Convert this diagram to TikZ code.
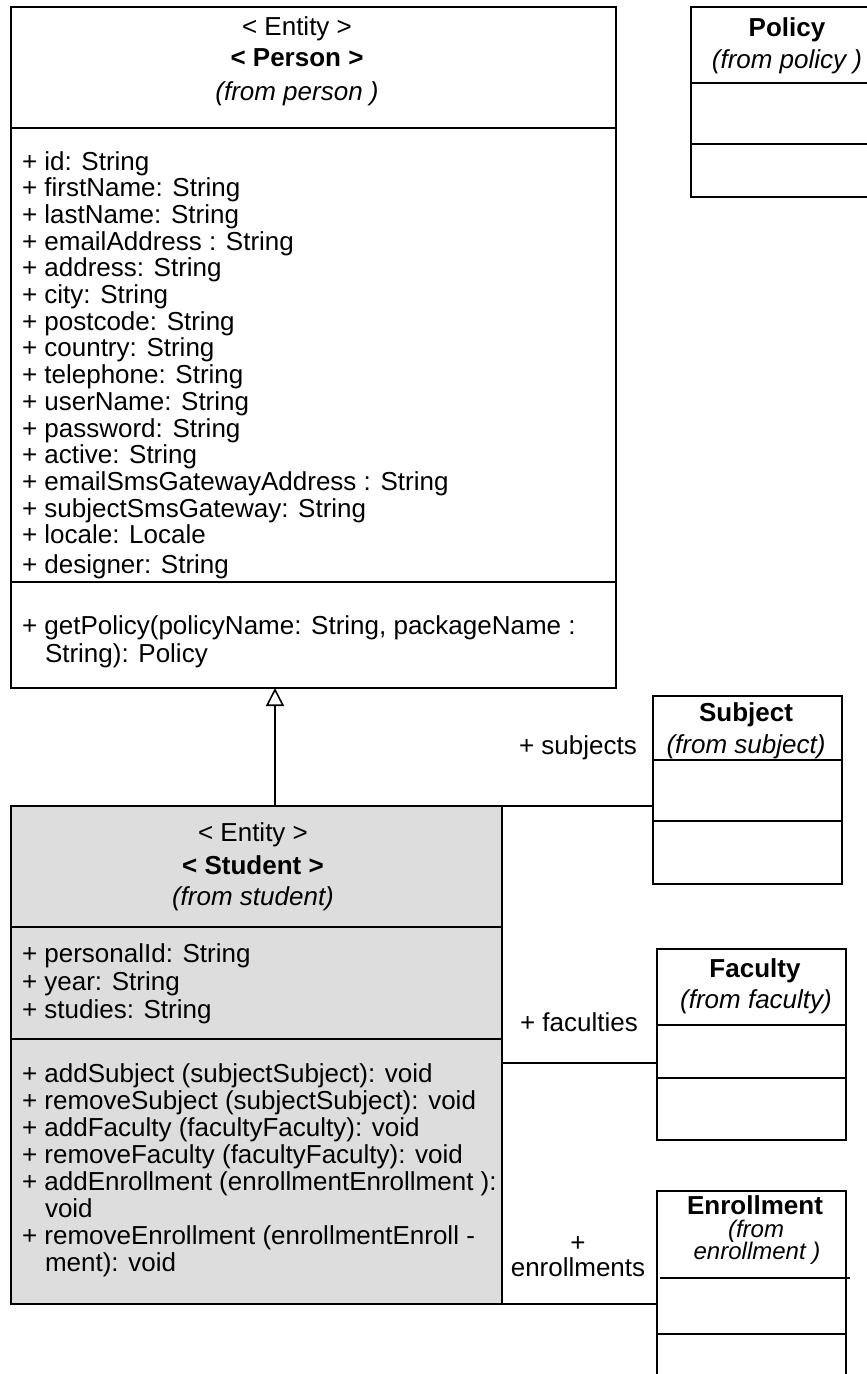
\documentclass[tikz,border=0pt]{standalone}
\usepackage{fontspec}
\setmainfont{Liberation Sans}
\usetikzlibrary{arrows.meta}
\definecolor{studentgray}{RGB}{221,221,221}
\newcommand{\umlsize}{\fontsize{26}{28}\selectfont}
\tikzset{
  classbox/.style={draw=black, line width=1.6pt, fill=white, anchor=north west,
    inner sep=0pt, outer sep=0pt},
  compsep/.style={line width=1.6pt},
  txt/.style={inner sep=0pt, outer sep=0pt, anchor=base west, font=\umlsize},
  ctxt/.style={txt, anchor=base},
  boldtxt/.style={ctxt, font=\umlsize\bfseries},
  itxt/.style={ctxt, font=\umlsize\itshape},
  assoc/.style={line width=1.6pt},
  generalization/.style={line width=1.6pt, -{Triangle[open, length=18pt, width=18pt]}},
}
\begin{document}
\begin{tikzpicture}[x=1pt, y=-1pt]
\useasboundingbox (0,0) rectangle (867,1374);
\clip (0,0) rectangle (867,1374);
\fill[white] (0,0) rectangle (867,1374);

% ---------- Person ----------
\node[classbox, minimum width=605pt, minimum height=681pt] (person) at (11,7) {};
\draw[compsep] (person.west |- 0,128) -- (person.east |- 0,128);
\draw[compsep] (person.west |- 0,582) -- (person.east |- 0,582);
\node[ctxt] (pst) at (297,35) {< Entity >};
\node[boldtxt] (pname) at (297,66) {< Person >};
\node[itxt] (ppkg) at (297,100) {(from person )};
\foreach \t [count=\i] in {
  + id: String, + firstName: String, + lastName: String, + emailAddress : String,
  + address: String, + city: String, + postcode: String, + country: String,
  + telephone: String, + userName: String, + password: String, + active: String,
  + emailSmsGatewayAddress : String, + subjectSmsGateway: String,
  + locale: Locale}
  \node[txt] (pa\i) at (22,{170+26.7*(\i-1)}) {\t};
\node[txt] (pa16) at (22,573) {+ designer: String};
\node[txt] (pm1) at (22,634) {+ getPolicy(policyName: String, packageName :};
\node[txt] (pm1b) at (45,662) {String): Policy};

% ---------- Policy ----------
\node[classbox, minimum width=200pt, minimum height=190pt] (policy) at (691,7) {};
\draw[compsep] (policy.west |- 0,83) -- (policy.east |- 0,83);
\draw[compsep] (policy.west |- 0,144) -- (policy.east |- 0,144);
\node[boldtxt] (polname) at (787,36) {Policy};
\node[itxt] (polpkg) at (787,68) {(from policy )};

% ---------- Student ----------
\node[classbox, fill=studentgray, minimum width=491pt, minimum height=498pt] (student) at (11,806) {};
\draw[compsep] (student.west |- 0,927) -- (student.east |- 0,927);
\draw[compsep] (student.west |- 0,1039) -- (student.east |- 0,1039);
\node[ctxt] (sst) at (253,841) {< Entity >};
\node[boldtxt] (sname) at (253,874) {< Student >};
\node[itxt] (spkg) at (253,905) {(from student)};
\node[txt] (sa1) at (22,962) {+ personalId: String};
\node[txt] (sa2) at (22,990) {+ year: String};
\node[txt] (sa3) at (22,1018) {+ studies: String};
\node[txt] (sm1) at (22,1082) {+ addSubject (subjectSubject): void};
\node[txt] (sm2) at (22,1109) {+ removeSubject (subjectSubject): void};
\node[txt] (sm3) at (22,1136) {+ addFaculty (facultyFaculty): void};
\node[txt] (sm4) at (22,1163) {+ removeFaculty (facultyFaculty): void};
\node[txt] (sm5) at (22,1190) {+ addEnrollment (enrollmentEnrollment ):};
\node[txt] (sm5b) at (45,1217) {void};
\node[txt] (sm6) at (22,1244) {+ removeEnrollment (enrollmentEnroll -};
\node[txt] (sm6b) at (45,1271) {ment): void};

% ---------- Subject ----------
\node[classbox, minimum width=189pt, minimum height=188pt] (subject) at (653,696) {};
\draw[compsep] (subject.west |- 0,760) -- (subject.east |- 0,760);
\draw[compsep] (subject.west |- 0,821) -- (subject.east |- 0,821);
\node[boldtxt] (subname) at (746,721) {Subject};
\node[itxt] (subpkg) at (746,753) {(from subject)};

% ---------- Faculty ----------
\node[classbox, minimum width=189pt, minimum height=191pt] (faculty) at (657,949) {};
\draw[compsep] (faculty.west |- 0,1025) -- (faculty.east |- 0,1025);
\draw[compsep] (faculty.west |- 0,1078) -- (faculty.east |- 0,1078);
\node[boldtxt] (facname) at (755,977) {Faculty};
\node[itxt] (facpkg) at (756,1008) {(from faculty)};

% ---------- Enrollment ----------
\node[classbox, minimum width=189pt, minimum height=200pt] (enrollment) at (657,1191) {};
\draw[compsep] (660,1278) -- (850,1278);
\draw[compsep] (enrollment.west |- 0,1334) -- (enrollment.east |- 0,1334);
\node[boldtxt] (enrname) at (755,1214) {Enrollment};
\node[itxt, font=\fontsize{24}{26}\selectfont\itshape] (enrpkg1) at (756,1237) {(from};
\node[itxt, font=\fontsize{24}{26}\selectfont\itshape] (enrpkg2) at (757,1259) {enrollment )};

% ---------- Connectors ----------
\coordinate (genx) at (275,0);
\draw[generalization] (student.north -| genx) -- (person.south -| genx);

\draw[assoc] (student.north east) -- (subject.west |- student.north east);
\node[ctxt] (lsub) at (578,754) {+ subjects};

\coordinate (facy) at (0,1063);
\draw[assoc] (student.east |- facy) -- (faculty.west |- facy);
\node[ctxt] (lfac) at (579,1031) {+ faculties};

\draw[assoc] (student.south east) -- (enrollment.west |- student.south east);
\node[ctxt] (lenr1) at (578,1251) {+};
\node[ctxt] (lenr2) at (578,1276) {enrollments};
\end{tikzpicture}
\end{document}
